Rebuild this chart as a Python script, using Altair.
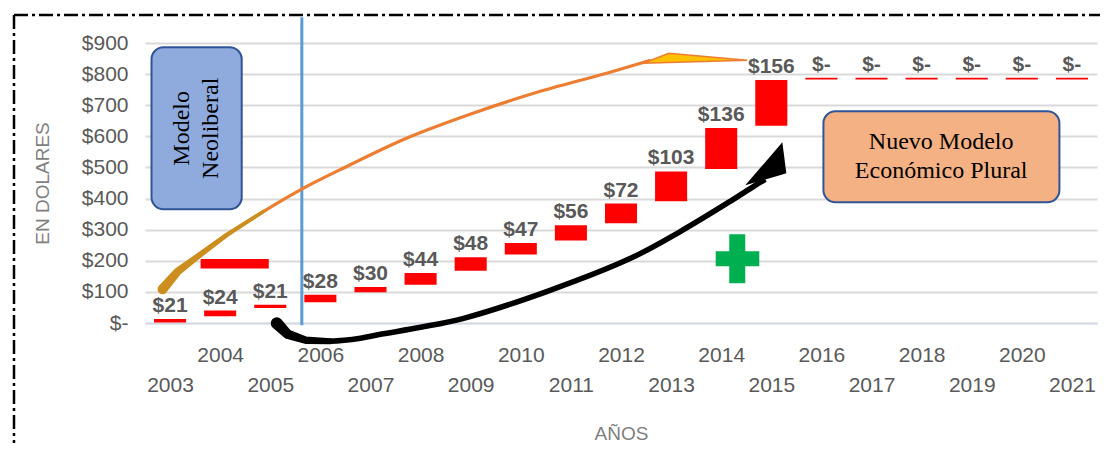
import altair as alt
import pandas as pd

# ---------------- data ----------------
years = list(range(2003, 2022))
bar_low = [2, 22, 48, 67, 99, 123, 168, 220, 265, 321, 391, 495, 634,
           783, 783, 783, 783, 783, 783]
bar_high = [13, 40, 59, 91, 116, 161, 211, 257, 314, 384, 487, 627, 781,
            788, 788, 788, 788, 788, 788]
labels = ["$21", "$24", "$21", "$28", "$30", "$44", "$48", "$47", "$56",
          "$72", "$103", "$136", "$156", "$-", "$-", "$-", "$-", "$-", "$-"]
y_ticks = [0, 100, 200, 300, 400, 500, 600, 700, 800, 900]

# extra red bar drawn near 2004
extra_x = [2003.61, 2004.97]
extra_y = [174.9, 205.7]

# annotation geometry (data units: year / dollars)
orange_x = [2002.85, 2003.15, 2003.51, 2004.14, 2004.87, 2005.61, 2006.40,
            2007.73, 2009.06, 2010.39, 2011.73, 2012.59]
orange_y = [108.3, 165.0, 208.9, 284.1, 359.0, 428.8, 493.1,
            594.6, 675.0, 744.7, 803.6, 844.4]
tail_w = [10, 8, 6, 4.5, 3.5]
orange_head = [(2012.45, 834.7), (2012.95, 866.9), (2014.52, 844.4)]

black_x = [2005.13, 2005.35, 2005.71, 2006.20, 2006.80, 2007.20, 2008.00, 2008.86,
           2010.53, 2012.19, 2013.19, 2014.18, 2014.68, 2014.88]
black_y = [-1.0, -36.3, -55.3, -58.5, -49.0, -36.3, -13.8, 15.1,
           101.9, 207.9, 294.7, 391.1, 442.5, 461.6]
black_tail_w = [12, 9.5, 7.5, 6]
black_head = [(2014.48, 442.5), (2015.22, 581.0), (2015.30, 481.2)]

blue_line_x = 2005.63
blue_line_y = [-7.4, 982.6]

box1 = {"x": 2002.63, "x2": 2004.43, "y": 365.5, "y2": 886.2}
box1_text = ["Modelo", "Neoliberal"]
box1_pos = (2003.23, 625.8)
box2 = {"x": 2016.04, "x2": 2020.75, "y": 388.0, "y2": 680.8}
box2_text = ["Nuevo Modelo", "Económico Plural"]
box2_pos = (2018.39, 580.8)

plus_v = {"x": 2014.16, "x2": 2014.48, "y": 127.8, "y2": 285.3}
plus_h = {"x": 2013.89, "x2": 2014.76, "y": 182.3, "y2": 230.5}

# ---------------- helpers ----------------
def tri_rows(pts):
    pts = sorted(pts)
    (xa, ya), (xb, yb), (xc, yc) = pts
    mid = ya + (yc - ya) * (xb - xa) / (xc - xa)
    return pd.DataFrame({"x": [xa, xb, xc], "y": [ya, yb, yc], "y2": [ya, mid, yc]})

xscale = alt.Scale(domain=[2002.5, 2021.5], nice=False, zero=False)
yscale = alt.Scale(domain=[0, 900], nice=False, zero=False)

FONT = "Liberation Sans"
xaxis = alt.Axis(
    values=years,
    labelExpr="datum.value % 2 == 0 ? '' + datum.value : ['', '' + datum.value]",
    labelOverlap=False, labelFlush=False, ticks=False, grid=False,
    domain=True, domainColor="#d0d8e8", domainWidth=1.5,
    labelPadding=21, labelFontSize=21, labelColor="#595959", labelFont=FONT,
    labelLineHeight=30, labelBaseline="top",
    title="AÑOS", titleFont=FONT, titleFontSize=19, titleColor="#7f7f7f",
    titleFontWeight="normal", titleX=476, titleY=110, titleBaseline="middle",
)
yaxis = alt.Axis(
    values=y_ticks,
    labelExpr="datum.value == 0 ? '$-' : '$' + datum.value",
    ticks=False, domain=False, gridColor="#d9d9d9", gridWidth=2,
    labelPadding=17, labelFontSize=21, labelColor="#595959", labelFont=FONT,
    title="EN DOLARES", titleFont=FONT, titleFontSize=19, titleColor="#7f7f7f",
    titleFontWeight="normal", titleX=-103, titleY=140, titleAngle=270,
    titleAlign="center", titleBaseline="middle",
)

def X(f):
    return alt.X(f, scale=xscale, axis=xaxis)

def Y(f):
    return alt.Y(f, scale=yscale, axis=yaxis)

bars_df = pd.DataFrame({"year": years, "low": bar_low, "high": bar_high, "label": labels})

bars = alt.Chart(bars_df).transform_calculate(
    xa="datum.year - 0.32", xb="datum.year + 0.32"
).mark_rect(color="#ff0000").encode(
    x=X("xa:Q"), x2="xb:Q", y=Y("low:Q"), y2="high:Q",
)

bar_labels = alt.Chart(bars_df).mark_text(
    baseline="alphabetic", dy=-7, fontSize=21, fontWeight="bold",
    color="#595959", font=FONT
).encode(x=X("year:Q"), y=Y("high:Q"), text="label:N")

extra = alt.Chart(pd.DataFrame({"x": [extra_x[0]], "x2": [extra_x[1]],
                                "y": [extra_y[0]], "y2": [extra_y[1]]})
                  ).mark_rect(color="#ff0000").encode(
    x=X("x:Q"), x2="x2:Q", y=Y("y:Q"), y2="y2:Q")

blue = alt.Chart(pd.DataFrame({"x": [blue_line_x], "y": [blue_line_y[0]], "y2": [blue_line_y[1]]})
                 ).mark_rule(color="#5b9bd5", strokeWidth=3).encode(
    x=X("x:Q"), y=Y("y:Q"), y2="y2:Q")

orange_df = pd.DataFrame({"x": orange_x, "y": orange_y, "i": range(len(orange_x))})
orange = alt.Chart(orange_df).mark_line(
    color="#ed7d31", strokeWidth=3.2, interpolate="catmull-rom").encode(
    x=X("x:Q"), y=Y("y:Q"), order="i:Q")
nt = len(tail_w)
tail_df = pd.DataFrame({"x": orange_x[:nt], "y": orange_y[:nt], "i": range(nt), "w": tail_w})
tail = alt.Chart(tail_df).mark_trail(color="#cc8f1f").encode(
    x=X("x:Q"), y=Y("y:Q"), order="i:Q", size=alt.Size("w:Q", scale=None, legend=None))
ohead = alt.Chart(tri_rows(orange_head)).mark_area(
    color="#ffc000", stroke="#ed7d31", strokeWidth=1.5, opacity=1).encode(
    x=X("x:Q"), y=Y("y:Q"), y2="y2:Q")

black_df = pd.DataFrame({"x": black_x, "y": black_y, "i": range(len(black_x))})
black = alt.Chart(black_df).mark_line(
    color="#000000", strokeWidth=5.5, interpolate="catmull-rom").encode(
    x=X("x:Q"), y=Y("y:Q"), order="i:Q")
nb = len(black_tail_w)
btail_df = pd.DataFrame({"x": black_x[:nb], "y": black_y[:nb], "i": range(nb), "w": black_tail_w})
btail = alt.Chart(btail_df).mark_trail(color="#000000").encode(
    x=X("x:Q"), y=Y("y:Q"), order="i:Q", size=alt.Size("w:Q", scale=None, legend=None))
bhead = alt.Chart(tri_rows(black_head)).mark_area(color="#000000", opacity=1).encode(
    x=X("x:Q"), y=Y("y:Q"), y2="y2:Q")

def box(b, fill):
    return alt.Chart(pd.DataFrame({k: [v] for k, v in b.items()})).mark_rect(
        fill=fill, stroke="#2f5597", strokeWidth=2, cornerRadius=12).encode(
        x=X("x:Q"), x2="x2:Q", y=Y("y:Q"), y2="y2:Q")

box1_c = box(box1, "#8faadc")
box2_c = box(box2, "#f4b183")
box1_t = alt.Chart(pd.DataFrame({"x": [box1_pos[0]], "y": [box1_pos[1]]})).mark_text(
    angle=270, align="center", baseline="middle", font="Liberation Serif",
    fontSize=24, lineHeight=29, color="#000000").encode(
    x=X("x:Q"), y=Y("y:Q"), text=alt.value(box1_text))
box2_t = alt.Chart(pd.DataFrame({"x": [box2_pos[0]], "y": [box2_pos[1]]})).mark_text(
    align="center", baseline="middle", font="Liberation Serif",
    fontSize=24, lineHeight=29, color="#000000").encode(
    x=X("x:Q"), y=Y("y:Q"), text=alt.value(box2_text))

plus = alt.Chart(pd.DataFrame([plus_v, plus_h])).mark_rect(color="#00b050").encode(
    x=X("x:Q"), x2="x2:Q", y=Y("y:Q"), y2="y2:Q")

dummy = pd.DataFrame({"a": [0]})
border_top = alt.Chart(dummy).mark_rule(
    color="#000000", strokeWidth=2.5, strokeDash=[14, 4, 3, 4]).encode(
    x=alt.value(-131), x2=alt.value(955), y=alt.value(-28))
border_left = alt.Chart(dummy).mark_rule(
    color="#000000", strokeWidth=2.5, strokeDash=[14, 4, 3, 4]).encode(
    x=alt.value(-131), y=alt.value(-28), y2=alt.value(400))

chart = alt.layer(
    bars, extra, bar_labels, blue, orange, tail, ohead, black, btail, bhead,
    box1_c, box1_t, box2_c, box2_t, plus, border_top, border_left
).properties(
    width=952, height=280,
    padding={"left": 4, "top": 5, "right": 0, "bottom": 0},
    background="#ffffff",
).configure_view(stroke=None)

chart.save("out.html", embed_options={"renderer": "svg", "actions": False})
